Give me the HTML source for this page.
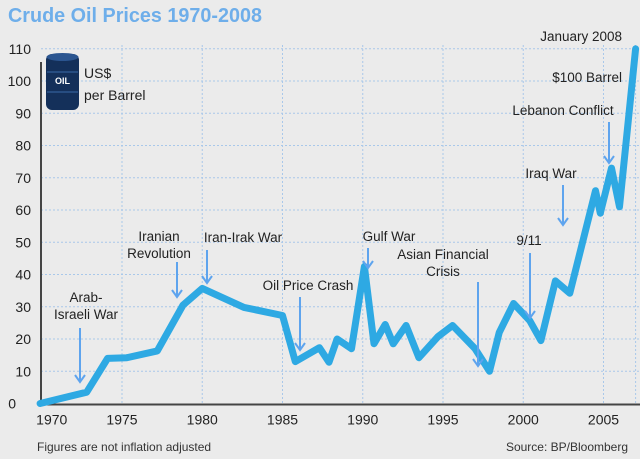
<!DOCTYPE html>
<html><head><meta charset="utf-8">
<style>
html,body{margin:0;padding:0;background:#ebebeb;}
svg{display:block;font-family:"Liberation Sans",sans-serif;}
</style></head>
<body>
<svg id="chart" width="640" height="459" viewBox="0 0 640 459">
<rect x="0" y="0" width="640" height="459" fill="#ebebeb"/>
<text x="8" y="22" font-size="20" font-weight="bold" fill="#6eaeea" textLength="254" lengthAdjust="spacingAndGlyphs">Crude Oil Prices 1970-2008</text>
<g id="grid"></g>
<g id="axes"></g>
<g id="series"></g>
<g id="notes"></g>
<g>
<rect x="46" y="54" width="33" height="56" rx="6" fill="#14305a"/>
<ellipse cx="62.5" cy="57" rx="16" ry="4" fill="#2b5590"/>
<line x1="47" y1="72" x2="78" y2="72" stroke="#3a6aa8" stroke-width="1"/>
<line x1="47" y1="92" x2="78" y2="92" stroke="#3a6aa8" stroke-width="1"/>
<text x="62.5" y="84" font-size="9" font-weight="bold" fill="#fff" text-anchor="middle">OIL</text>
</g>
<text x="84" y="78" font-size="14" fill="#222">US$</text>
<text x="84" y="100" font-size="14" fill="#222">per Barrel</text>
<text x="37" y="451" font-size="12" fill="#333">Figures are not inflation adjusted</text>
<text x="628" y="451" font-size="12" fill="#333" text-anchor="end">Source: BP/Bloomberg</text>
</svg>
<script>
const years=[1969.9,1972.8,1974.1,1975.3,1977.2,1978.8,1980,1982.6,1985,1985.8,1987.3,1987.9,1988.4,1989.3,1990.1,1990.7,1991.4,1991.9,1992.7,1993.5,1994.7,1995.6,1997,1997.9,1998.5,1999.4,2000.4,2001.1,2002,2002.9,2004.5,2004.8,2005.5,2006,2007];
const prices=[0,3.5,14,14.2,16.3,30.5,35.7,29.8,27.3,13,17.3,12.8,20,17,42.5,18.5,24.5,18.5,24.2,14.2,20.8,24.2,17,10,22,31,25.7,19.5,38,34.2,66,59,73,61,110];
const yTicks=[0,10,20,30,40,50,60,70,80,90,100,110];
const xTicks=[1970,1975,1980,1985,1990,1995,2000,2005];
const xGrid=[1975,1980,1985,1990,1995,2000,2005,2007];
const noteLabels=[["Arab-","Israeli War"],["Iranian","Revolution"],["Iran-Irak War"],["Oil Price Crash"],["Gulf War"],["Asian Financial","Crisis"],["9/11"],["Iraq War"],["Lebanon Conflict"]];

const NS="http://www.w3.org/2000/svg";
function X(y){return 122+(y-1975)*16.05;}
function Y(v){return 403.5-v*3.225;}
function mk(tag,attrs,parent){const e=document.createElementNS(NS,tag);for(const k in attrs)e.setAttribute(k,attrs[k]);parent.appendChild(e);return e;}
const grid=document.getElementById('grid'),axes=document.getElementById('axes'),series=document.getElementById('series'),notes=document.getElementById('notes');
yTicks.forEach(v=>{
  if(v>0){const l=mk('line',{x1:41,x2:640,y1:Y(v),y2:Y(v),stroke:'#a9c8ea','stroke-width':1,'stroke-dasharray':'2,2'},grid);
  
  }
  const t=mk('text',{x:v===0?16:31,y:Y(v)+5,'font-size':14,fill:'#222','text-anchor':'end'},axes);
  t.textContent=v;
  
  
});
xGrid.forEach(yr=>{
  const l=mk('line',{x1:X(yr),x2:X(yr),y1:45,y2:Y(0),stroke:'#a9c8ea','stroke-width':1,'stroke-dasharray':'2,2'},grid);
  
  
});
xTicks.forEach(yr=>{
  const t=mk('text',{x:X(yr)+(yr===1970?10:0),y:Y(0)+21,'font-size':14,fill:'#222','text-anchor':'middle'},axes);
  t.textContent=yr;
  
  
});
const ya=mk('line',{x1:41,x2:41,y1:62,y2:Y(0),stroke:'#444','stroke-width':2},axes);


const xa=mk('line',{x1:41,x2:640,y1:Y(0)+1,y2:Y(0)+1,stroke:'#444','stroke-width':2},axes);


const d=years.map((yr,i)=>(i?'L':'M')+X(yr).toFixed(1)+','+Y(prices[i]).toFixed(1)).join(' ');
const p=mk('path',{d:d,fill:'none',stroke:'#2ea9e3','stroke-width':7,'stroke-linejoin':'round','stroke-linecap':'round'},series);


// annotation layout: [textCenterX, firstBaselineY, arrowX, arrowTop, arrowBottom]
const layout=[[86,302,80,328,382],[159,241,177,262,297],[243,242,207,250,283],[308,290,300,297,350],[389,241,368,248,268],[443,259,478,282,366],[529,245,530,253,318],[551,178,563,185,225],[563,115,609,122,163]];
noteLabels.forEach((lines,i)=>{
  const [tx0,ty0,ax,a1,a2]=layout[i];
  const g=mk('g',{},notes);
  
  
  const tx=mk('text',{x:tx0,y:ty0,'font-size':13.5,fill:'#222','text-anchor':'middle'},g);
  lines.forEach((s,j)=>{const ts=mk('tspan',{x:tx0,dy:j?17:0},tx);ts.textContent=s;});
  mk('line',{x1:ax,x2:ax,y1:a1,y2:a2,stroke:'#5ea4ee','stroke-width':2},g);
  mk('path',{d:`M${ax-5},${a2-7} L${ax},${a2} L${ax+5},${a2-7}`,fill:'none',stroke:'#5ea4ee','stroke-width':2},g);
});
[["January 2008",41],["$100 Barrel",82]].forEach(([s,y])=>{
  const t=mk('text',{x:622,y:y,'font-size':13.5,fill:'#222','text-anchor':'end'},notes);
  t.textContent=s;
  
  
});
</script>
</body></html>
